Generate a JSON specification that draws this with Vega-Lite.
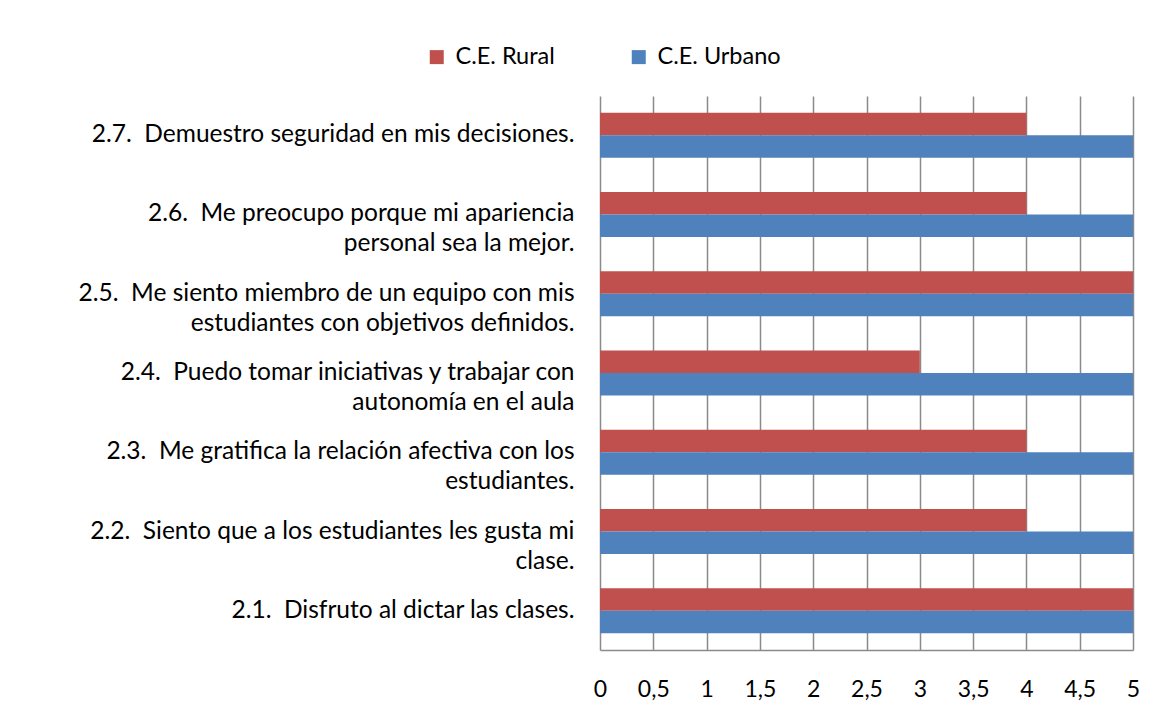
{
  "$schema": "https://vega.github.io/schema/vega-lite/v6.json",
  "autosize": {"type": "none"},
  "padding": {"left": 600, "top": 96, "right": 42, "bottom": 66},
  "width": 533,
  "height": 554,
  "background": "white",
  "config": {
    "font": "Lato",
    "view": {"stroke": null}
  },
  "data": {
    "values": [
      {"item": "2.7.  Demuestro seguridad en mis decisiones.", "serie": "C.E. Rural", "valor": 4},
      {"item": "2.7.  Demuestro seguridad en mis decisiones.", "serie": "C.E. Urbano", "valor": 5},
      {"item": "2.6.  Me preocupo porque mi apariencia|personal sea la mejor.", "serie": "C.E. Rural", "valor": 4},
      {"item": "2.6.  Me preocupo porque mi apariencia|personal sea la mejor.", "serie": "C.E. Urbano", "valor": 5},
      {"item": "2.5.  Me siento miembro de un equipo  con mis|estudiantes con objetivos definidos.", "serie": "C.E. Rural", "valor": 5},
      {"item": "2.5.  Me siento miembro de un equipo  con mis|estudiantes con objetivos definidos.", "serie": "C.E. Urbano", "valor": 5},
      {"item": "2.4.  Puedo tomar iniciativas y trabajar con|autonomía en el aula", "serie": "C.E. Rural", "valor": 3},
      {"item": "2.4.  Puedo tomar iniciativas y trabajar con|autonomía en el aula", "serie": "C.E. Urbano", "valor": 5},
      {"item": "2.3.  Me gratifica la relación afectiva con los|estudiantes.", "serie": "C.E. Rural", "valor": 4},
      {"item": "2.3.  Me gratifica la relación afectiva con los|estudiantes.", "serie": "C.E. Urbano", "valor": 5},
      {"item": "2.2.  Siento que a los estudiantes les gusta mi|clase.", "serie": "C.E. Rural", "valor": 4},
      {"item": "2.2.  Siento que a los estudiantes les gusta mi|clase.", "serie": "C.E. Urbano", "valor": 5},
      {"item": "2.1.  Disfruto al dictar las clases.", "serie": "C.E. Rural", "valor": 5},
      {"item": "2.1.  Disfruto al dictar las clases.", "serie": "C.E. Urbano", "valor": 5}
    ]
  },
  "mark": {"type": "bar"},
  "encoding": {
    "y": {
      "field": "item",
      "type": "nominal",
      "sort": [
        "2.7.  Demuestro seguridad en mis decisiones.",
        "2.6.  Me preocupo porque mi apariencia|personal sea la mejor.",
        "2.5.  Me siento miembro de un equipo  con mis|estudiantes con objetivos definidos.",
        "2.4.  Puedo tomar iniciativas y trabajar con|autonomía en el aula",
        "2.3.  Me gratifica la relación afectiva con los|estudiantes.",
        "2.2.  Siento que a los estudiantes les gusta mi|clase.",
        "2.1.  Disfruto al dictar las clases."
      ],
      "scale": {"paddingInner": 0.43, "paddingOuter": 0.21},
      "axis": {
        "title": null,
        "domain": false,
        "ticks": false,
        "grid": false,
        "labelExpr": "split(replace(datum.label, '  ', '\u00a0 '), '|')",
        "labelFontSize": 24.5,
        "labelColor": "#000000",
        "labelPadding": 26,
        "labelLineHeight": 30,
        "labelLimit": 0
      }
    },
    "yOffset": {
      "field": "serie",
      "type": "nominal",
      "sort": ["C.E. Rural", "C.E. Urbano"]
    },
    "x": {
      "field": "valor",
      "type": "quantitative",
      "scale": {"domain": [0, 5], "nice": false},
      "axis": {
        "title": null,
        "values": [0, 0.5, 1, 1.5, 2, 2.5, 3, 3.5, 4, 4.5, 5],
        "labelExpr": "replace(toString(datum.value), '.', ',')",
        "labelFontSize": 23,
        "labelColor": "#000000",
        "labelPadding": 28,
        "ticks": false,
        "grid": true,
        "gridColor": "#8a8a8a",
        "gridWidth": 1.5,
        "gridOpacity": 1,
        "domain": true,
        "domainColor": "#8a8a8a",
        "domainWidth": 1.5,
        "labelFlush": false
      }
    },
    "color": {
      "field": "serie",
      "type": "nominal",
      "sort": ["C.E. Rural", "C.E. Urbano"],
      "scale": {"domain": ["C.E. Rural", "C.E. Urbano"], "range": ["#C0504D", "#4F81BD"]},
      "legend": {
        "title": null,
        "orient": "none",
        "direction": "horizontal",
        "legendX": -175,
        "legendY": -51,
        "symbolType": "square",
        "symbolSize": 196,
        "symbolStrokeWidth": 0,
        "symbolOpacity": 1,
        "labelFontSize": 23.5,
        "labelColor": "#000000",
        "labelOffset": 7,
        "columnPadding": 72
      }
    }
  }
}
